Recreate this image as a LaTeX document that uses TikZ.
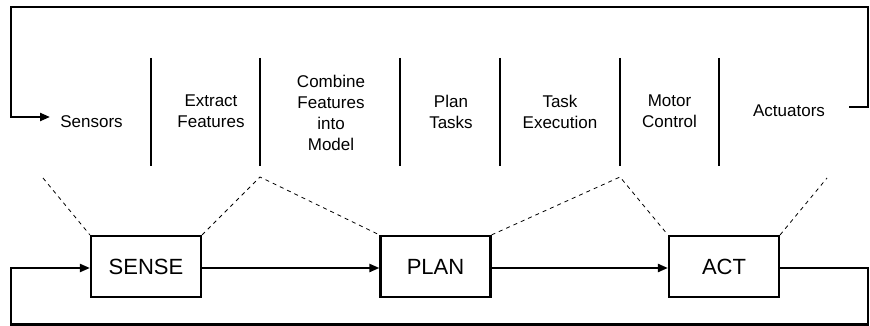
\documentclass[tikz,border=0pt]{standalone}
\usepackage{fontspec}
\setmainfont{Liberation Sans}
\usetikzlibrary{arrows.meta}
\begin{document}
\begin{tikzpicture}[x=1pt,y=-1pt,
  thick line/.style={line width=2.2pt},
  lbl/.style={font=\fontsize{17}{21}\selectfont, align=center, inner sep=0pt},
  blockbox/.style={draw, line width=2.2pt, minimum width=110pt, minimum height=61pt, inner sep=0pt, font=\fontsize{22}{26}\selectfont},
  flow/.style={line width=2.2pt, -{Triangle[length=10pt,width=8pt]}},
  guide/.style={line width=0.8pt, dash pattern=on 4pt off 4pt},
  divider/.style={line width=2.2pt}]
\useasboundingbox (0,0) rectangle (870,326);
% stage labels
\node[lbl] (sensors) at (91.5,121.6) {Sensors};
\node[lbl] (extract) at (211,111.7) {Extract\\Features};
\node[lbl] (combine) at (331,112.9) {Combine\\Features\\into\\Model};
\node[lbl] (plantasks) at (451,111.7) {Plan\\Tasks};
\node[lbl] (taskexec) at (560,111.7) {Task\\Execution};
\node[lbl] (motor) at (669.5,111.7) {Motor\\Control};
\node[lbl] (actuators) at (789,111.2) {Actuators};
% dividers
\foreach \x in {151,260,400,500,620,719}
  \draw[divider] (\x,58) -- (\x,166);
% top loop
\coordinate (actout) at (849,107);
\coordinate (sensin) at (50,117);
\draw[line width=2.2pt, -{Triangle[length=10pt,width=8pt]}]
  (actout) -- (868,107) -- (868,7) -- (11,7) -- (11,117) -- (sensin);
% blocks
\node[blockbox] (sense) at (146,266.5) {SENSE};
\node[blockbox] (plan) at (435.5,266.5) {PLAN};
\node[blockbox] (act) at (724,266.5) {ACT};
\draw[flow] (sense.east |- 0,268) -- (plan.west |- 0,268);
\draw[flow] (plan.east |- 0,268) -- (act.west |- 0,268);
\draw[flow] (act.east |- 0,268) -- (868,268) -- (868,324.5) -- (11,324.5) -- (11,268) -- (sense.west |- 0,268);
% dashed guides
\coordinate (g1) at (43,178);
\coordinate (g2) at (260,177);
\coordinate (g3) at (620,177);
\coordinate (g4) at (827,178);
\draw[guide] (g1) -- (sense.north west);
\draw[guide] (sense.north east) -- (g2) -- (plan.north west);
\draw[guide] (plan.north east) -- (g3) -- (act.north west);
\draw[guide] (act.north east) -- (g4);
\end{tikzpicture}
\end{document}
